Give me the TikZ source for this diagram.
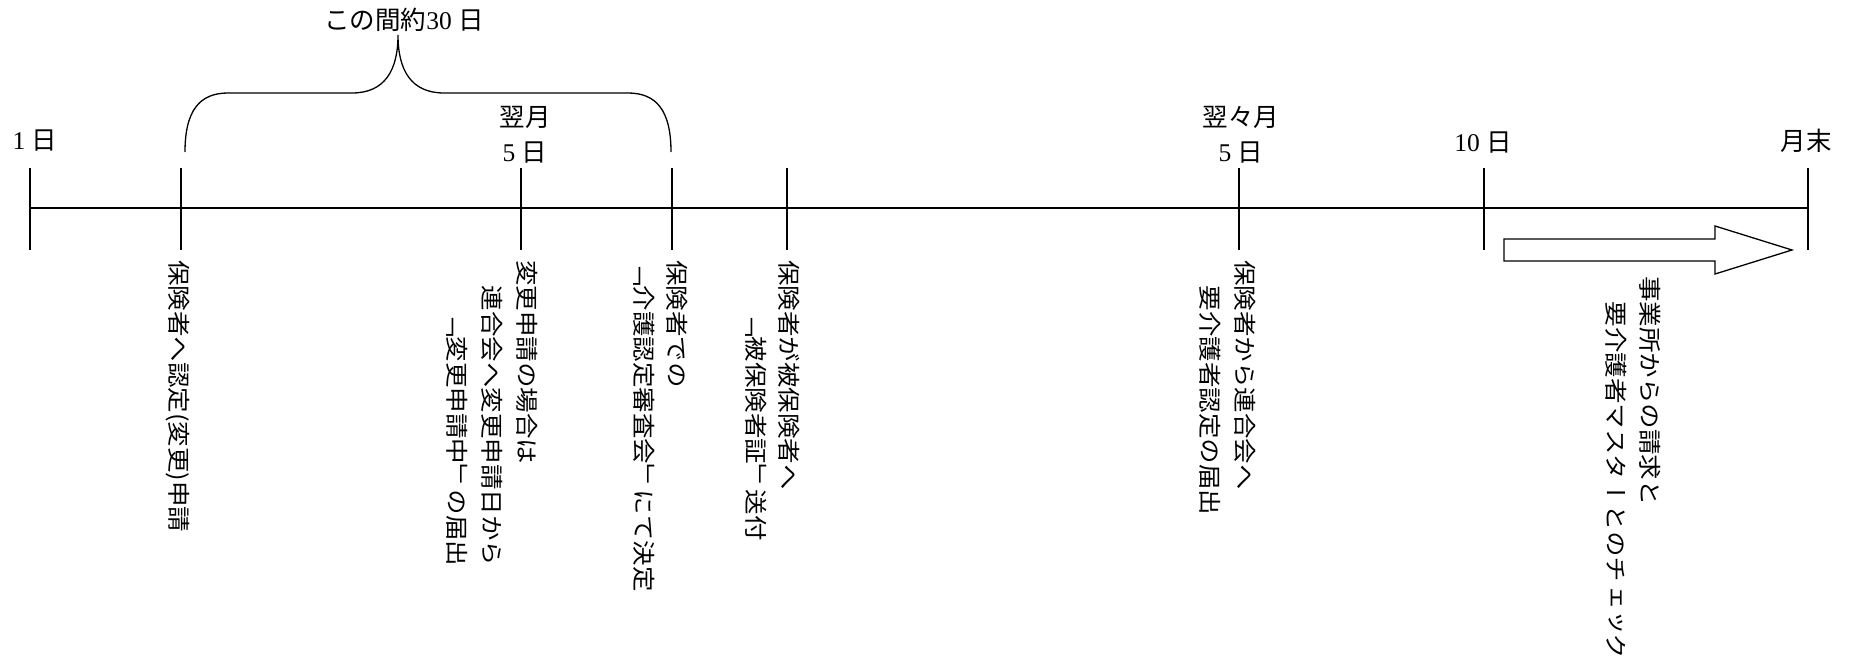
\documentclass[tikz,border=0pt]{standalone}
\usepackage{fontspec}
\setmainfont{Liberation Serif}
\newfontfamily\jp{Noto Sans CJK JP}
\newfontfamily\vjp[Vertical=RotatedGlyphs]{Noto Sans CJK JP}
\begin{document}
\begin{tikzpicture}[x=1pt,y=-1pt,
  axisline/.style={line width=2pt},
  tickline/.style={line width=2pt},
  thinline/.style={line width=1.3pt},
  vlab/.style={rotate=-90, yscale=0.9, anchor=west, inner sep=0pt,
    text height=0.88em, text depth=0.12em,
    font=\vjp\fontsize{25.5}{30}\selectfont},
  hlab/.style={inner sep=0pt, align=center, font=\fontsize{25.5}{35}\selectfont}
]
\useasboundingbox (0,0) rectangle (1849,658);
% main line
\coordinate (L) at (29.5,208);
\coordinate (R) at (1807.5,208);
\draw[axisline] (L) -- (R);
% ticks
\foreach \n/\x in {1/29.5,2/180.5,3/521,4/672,5/786.5,6/1239,7/1484,8/1807.5}{
  \coordinate (t\n a) at (\x,168);
  \coordinate (t\n b) at (\x,250);
  \draw[tickline] (t\n a) -- (t\n b);
}
% brace
\coordinate (bl) at (185,152);
\coordinate (br) at (671,152);
\coordinate (btip) at (398,35);
\draw[thinline] (bl) .. controls (185,110) and (200,93) .. (228,93)
  -- (352,93) .. controls (385,93) and (398,70) .. (btip)
  .. controls (398,70) and (411,93) .. (444,93)
  -- (628,93) .. controls (656,93) and (671,110) .. (br);
% block arrow
\coordinate (a1) at (1504,239);
\coordinate (a2) at (1715,239);
\coordinate (a3) at (1715,226);
\coordinate (a4) at (1792,250);
\coordinate (a5) at (1715,274);
\coordinate (a6) at (1715,261);
\coordinate (a7) at (1504,261);
\draw[thinline] (a1) -- (a2) -- (a3) -- (a4) -- (a5) -- (a6) -- (a7) -- cycle;
% horizontal labels
\node[hlab] (h1) at (35,141) {1 {\jp 日}};
\node[hlab] (h2) at (525,134.5) {{\jp 翌月}\\5 {\jp 日}};
\node[hlab] (h3) at (1241,134.5) {{\jp 翌々月}\\5 {\jp 日}};
\node[hlab] (h4) at (1483,143) {10 {\jp 日}};
\node[hlab] (h5) at (1806,141) {{\jp 月末}};
\node[hlab] (h6) at (404,20) {{\jp この間約}30 {\jp 日}};
% vertical labels
\node[vlab] (v1) at (174,260) {保険者へ認定(変更)申請};
\node[vlab] (v2a) at (522,260) {変更申請の場合は};
\node[vlab] (v2b) at (487,260) {　連合会へ変更申請日から};
\node[vlab] (v2c) at (452,260) {　　「変更申請中」の届出};
\node[vlab] (v3a) at (672,260) {保険者での};
\node[vlab] (v3b) at (639,260) {「介護認定審査会」にて決定};
\node[vlab] (v4a) at (784,260) {保険者が被保険者へ};
\node[vlab] (v4b) at (751,260) {　　「被保険者証」送付};
\node[vlab] (v5a) at (1240,260) {保険者から連合会へ};
\node[vlab] (v5b) at (1205,260) {　要介護者認定の届出};
\node[vlab] (v6a) at (1645,276) {事業所からの請求と};
\node[vlab] (v6b) at (1611,276) {　要介護者マスターとのチェック};
\end{tikzpicture}
\end{document}
